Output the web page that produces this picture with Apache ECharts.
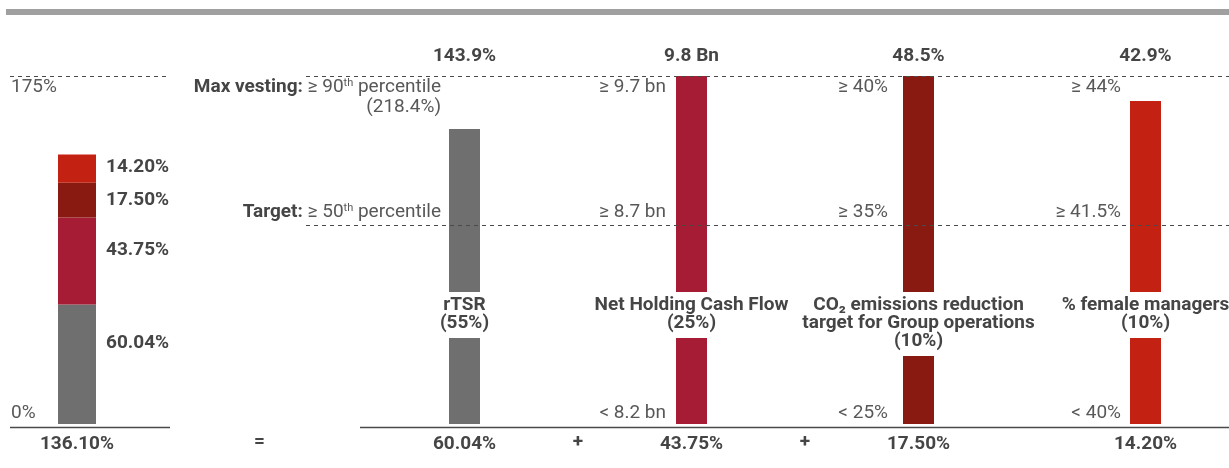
<!DOCTYPE html>
<html>
<head>
<meta charset="utf-8">
<script src="https://cdn.jsdelivr.net/npm/echarts@6/dist/echarts.min.js"></script>
<style>
  html, body { margin: 0; padding: 0; background: #fff; }
  #chart { width: 1229px; height: 468px; }
</style>
</head>
<body>
<div id="chart"></div>
<script>
// ---- Performance measures and their weighting ----
const metricNames = ['rTSR', 'Net Holding Cash Flow', 'CO₂ emissions reduction\ntarget for Group operations', '% female managers'];
const metricWeights = ['55%', '25%', '10%', '10%'];

// Achieved outcome for each measure
const outcomeLabels = ['143.9%', '9.8 Bn', '48.5%', '42.9%'];

// Vesting thresholds for each measure
const maxThresholds = ['≥ 90th percentile', '≥ 9.7 bn', '≥ 40%', '≥ 44%'];
const maxNotes = ['(218.4%)', '', '', ''];
const targetThresholds = ['≥ 50th percentile', '≥ 8.7 bn', '≥ 35%', '≥ 41.5%'];
const floorThresholds = ['', '< 8.2 bn', '< 25%', '< 40%'];
const rowTitles = { max: 'Max vesting:', target: 'Target:' };

// Achievement of each measure on the common vesting scale (0 = threshold, 100 = target, 175 = max)
const performanceLevels = [148.3, 175, 175, 162.4];

// Weighted vesting contribution of each measure (%) and the resulting total
const contributions = [60.04, 43.75, 17.50, 14.20];
const totalVesting = 136.10;
const operators = ['=', '+', '+', ''];

// Scale marks on the total column (%)
const scaleTicks = [0, 175];
const MAX_LEVEL = 175;
const TARGET_LEVEL = 100;
const SCALE_MIN = -1.5;

// ---- Styling ----
const FONT = 'Roboto';
const FS = 19;
const BOLD_COLOR = '#454545';
const TEXT_COLOR = '#585858';
const LINE_COLOR = '#4a4a4a';
const metricColors = ['#6f6f6f', '#a71c35', '#891a11', '#c32111'];
const L = {
  totalBarWidth: 38,
  measureBarWidth: 31,
  segmentLabelShift: [-21, -11, 0, -1],
  thresholdGap: [8, 10, 15, 9],
  equalsDistance: 205
};

const pct2 = v => v.toFixed(2) + '%';
const supify = s => s.replace(/(\d)(st|nd|rd|th)\b/g, '$1{sup|$2}');

const richStyles = {
  b: { fontFamily: FONT, fontSize: FS, fontWeight: 'bold', fill: BOLD_COLOR },
  sup: { fontFamily: FONT, fontSize: 11, fill: TEXT_COLOR, verticalAlign: 'top' }
};

function textEl(text, x, y, extra) {
  return {
    type: 'text', x: x, y: y, z2: 10,
    style: Object.assign({
      text: text, fontFamily: FONT, fontSize: FS, fill: TEXT_COLOR,
      align: 'center', verticalAlign: 'middle', rich: richStyles
    }, extra || {})
  };
}

// Threshold texts, outcome values, measure names and operators around each bar
function renderMeasureNotes(params, api) {
  const i = params.dataIndex;
  const base = api.coord([i, 0]);
  const cx = base[0], yZero = base[1];
  const yMax = api.coord([i, MAX_LEVEL])[1];
  const yTarget = api.coord([i, TARGET_LEVEL])[1];
  const band = api.size([1, 0])[0];
  const right = cx - L.measureBarWidth / 2 - L.thresholdGap[i];
  const bold = { fontWeight: 'bold', fill: BOLD_COLOR };
  const kids = [];

  kids.push(textEl(outcomeLabels[i], cx, yMax - 20, bold));

  const maxText = (i === 0 ? '{b|' + rowTitles.max + '} ' : '') + supify(maxThresholds[i]);
  kids.push(textEl(maxText, right, yMax + 11, { align: 'right' }));
  if (maxNotes[i]) kids.push(textEl(maxNotes[i], right, yMax + 31, { align: 'right' }));

  const tgtText = (i === 0 ? '{b|' + rowTitles.target + '} ' : '') + supify(targetThresholds[i]);
  kids.push(textEl(tgtText, right, yTarget - 13, { align: 'right' }));

  if (floorThresholds[i]) kids.push(textEl(floorThresholds[i], right, yZero - 11, { align: 'right' }));

  kids.push(textEl(metricNames[i] + '\n(' + metricWeights[i] + ')', cx, yZero - 132, {
    fontWeight: 'bold', fill: BOLD_COLOR, verticalAlign: 'top', lineHeight: 18,
    backgroundColor: '#fff', padding: [4, 8, 6, 8]
  }));

  if (operators[i]) {
    const ox = i === 0 ? cx - L.equalsDistance : cx - band / 2;
    kids.push(textEl(operators[i], ox, yZero + 18, bold));
  }
  return { type: 'group', children: kids };
}

// "0%" / "175%" marks on the total column
function renderScaleMarks(params, api) {
  const v = api.value(1);
  const y = api.coord([0, v])[1];
  return textEl(v + '%', params.coordSys.x + 1, v > 0 ? y + 11 : y - 11, { align: 'left' });
}

const chart = echarts.init(document.getElementById('chart'));

const yAxisCommon = { type: 'value', min: SCALE_MIN, max: MAX_LEVEL, show: false };
const xLabelStyle = { margin: 8, fontFamily: FONT, fontSize: FS, fontWeight: 'bold', color: BOLD_COLOR };

const totalSeries = contributions.map((v, i) => ({
  type: 'bar', xAxisIndex: 0, yAxisIndex: 0, stack: 'total',
  barWidth: L.totalBarWidth, z: 2,
  data: [v],
  itemStyle: { color: metricColors[i] },
  label: {
    show: true, position: 'right', distance: 10, offset: [0, L.segmentLabelShift[i]],
    formatter: p => pct2(p.value),
    fontFamily: FONT, fontSize: FS, fontWeight: 'bold', color: BOLD_COLOR
  }
}));

chart.setOption({
  animation: false,
  textStyle: { fontFamily: FONT },
  grid: [
    { left: 10, width: 134, top: 76, bottom: 41, outerBoundsMode: 'none' },
    { left: 351, width: 908, top: 76, bottom: 41, outerBoundsMode: 'none' }
  ],
  xAxis: [
    { gridIndex: 0, type: 'category', data: [pct2(totalVesting)],
      axisLine: { show: false }, axisTick: { show: false }, axisLabel: xLabelStyle },
    { gridIndex: 1, type: 'category', data: contributions.map(pct2),
      axisLine: { show: false }, axisTick: { show: false }, axisLabel: xLabelStyle }
  ],
  yAxis: [
    Object.assign({ gridIndex: 0 }, yAxisCommon),
    Object.assign({ gridIndex: 1 }, yAxisCommon)
  ],
  series: totalSeries.concat([
    {
      type: 'bar', xAxisIndex: 1, yAxisIndex: 1, barWidth: L.measureBarWidth, z: 2,
      data: performanceLevels.map((v, i) => ({ value: v, itemStyle: { color: metricColors[i] } }))
    },
    {
      type: 'custom', xAxisIndex: 1, yAxisIndex: 1, z: 6,
      data: performanceLevels.map((v, i) => [i, v]),
      renderItem: renderMeasureNotes
    },
    {
      type: 'custom', xAxisIndex: 0, yAxisIndex: 0, z: 6,
      data: scaleTicks.map(v => [0, v]),
      renderItem: renderScaleMarks
    }
  ])
});

// Reference lines at the max / target levels and the baselines
const yPx = v => Math.round(chart.convertToPixel({ yAxisIndex: 1 }, v)) + 0.5;
const yMaxPx = yPx(MAX_LEVEL);
const yTargetPx = yPx(TARGET_LEVEL);
const yBasePx = yPx(SCALE_MIN);
const dashed = (x1, x2, y) => ({
  type: 'line', z: 20, shape: { x1: x1, y1: y, x2: x2, y2: y },
  style: { stroke: LINE_COLOR, lineWidth: 1, lineDash: [4, 4] }
});
const solid = (x1, x2, y) => ({
  type: 'line', z: 20, shape: { x1: x1, y1: y, x2: x2, y2: y },
  style: { stroke: LINE_COLOR, lineWidth: 1.3 }
});

chart.setOption({
  graphic: [
    { type: 'rect', z: 20, shape: { x: 6, y: 9, width: 1223, height: 6 }, style: { fill: '#a0a0a0' } },
    dashed(10, 170, yMaxPx),
    dashed(306, 1229, yMaxPx),
    dashed(306, 1229, yTargetPx),
    solid(10, 170, yBasePx),
    solid(360, 1229, yBasePx)
  ]
});
</script>
</body>
</html>
